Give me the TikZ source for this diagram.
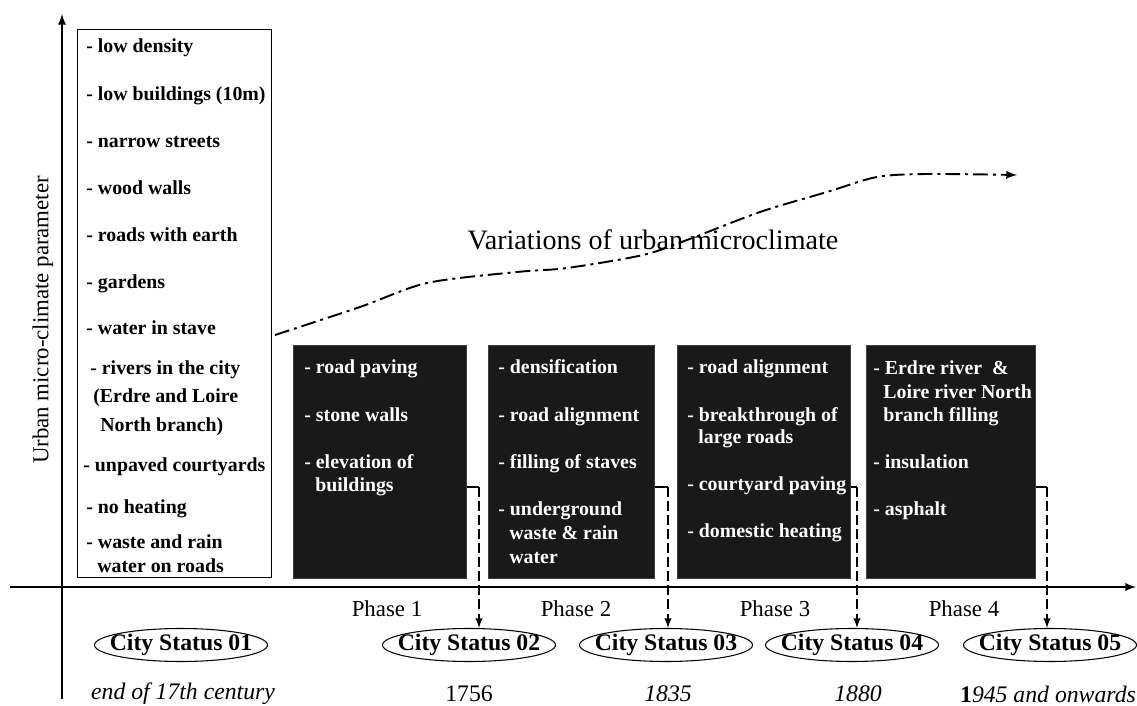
\documentclass[tikz,border=0pt]{standalone}
\usepackage{fontspec}
\setmainfont{Liberation Serif}
\usepackage{tikz}
\usetikzlibrary{shapes.geometric,arrows}

\begin{document}
\begin{tikzpicture}[
x=0.02cm, y=-0.02cm, >=latex,
item/.style={
	anchor=west, inner sep=0pt,
	font=\fontsize{11.3}{13}\selectfont\bfseries,
	text height=1.5ex, text depth=.25ex
},
initem/.style={item, text=white},
phasebox/.style={
	draw=black!75, fill=black!90, anchor=north west,
	minimum height=4.66cm, inner sep=0pt
},
status/.style={
	ellipse, draw, line width=0.6pt, inner xsep=-0.2cm, inner ysep=0pt,
	minimum height=0.66cm,
	font=\fontsize{13.5}{15}\selectfont\bfseries
},
phase/.style={font=\fontsize{13}{15}\selectfont},
date/.style={font=\fontsize{13.5}{15}\selectfont},
link/.style={line width=0.9pt, dash pattern=on 5.5pt off 2.5pt, ->},
axis/.style={line width=1.1pt, ->}
]
\useasboundingbox (0,0) rectangle (1137,706);

% axes
\coordinate (xs) at (10,587);
\coordinate (xe) at (1136,587);
\coordinate (ys) at (62,699);
\coordinate (ye) at (62,14);
\draw[axis] (xs) -- (xe);
\draw[axis] (ys) -- (ye);
\node[rotate=90, font=\fontsize{13}{15}\selectfont] (ylab) at (43,320) {Urban micro-climate parameter};

% initial state
\node[draw, line width=0.6pt, anchor=north west, minimum width=3.88cm, minimum height=10.96cm] (old) at (77,29) {};
\foreach \x/\y/\t in {86/47/- low density, 86/95/- low buildings (10m), 86/142/- narrow streets,
	86/189/- wood walls, 86/236/- roads with earth, 86/283/- gardens, 86/329/- water in stave,
	90/369/- rivers in the city, 93/397/(Erdre and Loire, 100/426/North branch),
	83/466/- unpaved courtyards, 86/508/- no heating, 86/543/- waste and rain, 97/567/water on roads}
	\node[item] at (\x,\y) {\t};

% phases
\node[phasebox, minimum width=3.46cm] (p1) at (293,345) {};
\node[phasebox, minimum width=3.32cm] (p2) at (488,345) {};
\node[phasebox, minimum width=3.46cm] (p3) at (677,345) {};
\node[phasebox, minimum width=3.38cm] (p4) at (866,345) {};
\foreach \x/\y/\t in {304/368/- road paving, 304/416/- stone walls, 304/463/- elevation of, 315/486/buildings,
	498/368/- densification, 498/416/- road alignment, 498/463/- filling of staves,
	498/510/- underground, 509/534/waste \& rain, 509/558/water,
	687/368/- road alignment, 687/416/- breakthrough of, 698/438/large roads,
	687/485/- courtyard paving, 687/532/- domestic heating,
	873/369/- Erdre river~~\&, 883/393/Loire river North, 883/416/branch filling,
	873/463/- insulation, 873/510/- asphalt}
	\node[initem] at (\x,\y) {\t};

% city states
\node[status] (s1) at (181,645) {City Status 01};
\node[status] (s2) at (469,645) {City Status 02};
\node[status] (s3) at (666,645) {City Status 03};
\node[status] (s4) at (852,645) {City Status 04};
\node[status] (s5) at (1050,645) {City Status 05};

\foreach \i/\x in {1/387,2/576,3/775,4/964}
	\node[phase] (ph\i) at (\x,609) {Phase \i};

\node[date] (d1) at (183,694) {\itshape end of 17th century};
\node[date] (d2) at (469,694) {1756};
\node[date] (d3) at (668,694) {\itshape 1835};
\node[date] (d4) at (858,694) {\itshape 1880};
\node[date] (d5) at (1048,694) {\textbf{1}\textit{945 and onwards}};

% links
\coordinate (c1) at (479,487);
\coordinate (c2) at (668,487);
\coordinate (c3) at (857,487);
\coordinate (c4) at (1047,487);
\foreach \i in {1,...,4}
{
	\pgfmathsetmacro\next{int(\i + 1)}
	\draw[line width=0.9pt] (p\i.east |- c\i) -- (c\i);
	\draw[link] (c\i) -- (c\i |- s\next.north);
}

% trend
\draw[line width=1.1pt, dash pattern=on 8.5pt off 2.8pt on 1.7pt off 2.8pt, ->]
	plot[smooth] coordinates {(275,335) (360,307) (427,283) (517,272) (567,268) (643,255)
	(687,240) (760,212) (827,192) (877,177) (927,174) (1017,175)};
\node[anchor=base, font=\fontsize{16}{18}\selectfont] (var) at (653,250) {Variations of urban microclimate};
\end{tikzpicture}
\end{document}
